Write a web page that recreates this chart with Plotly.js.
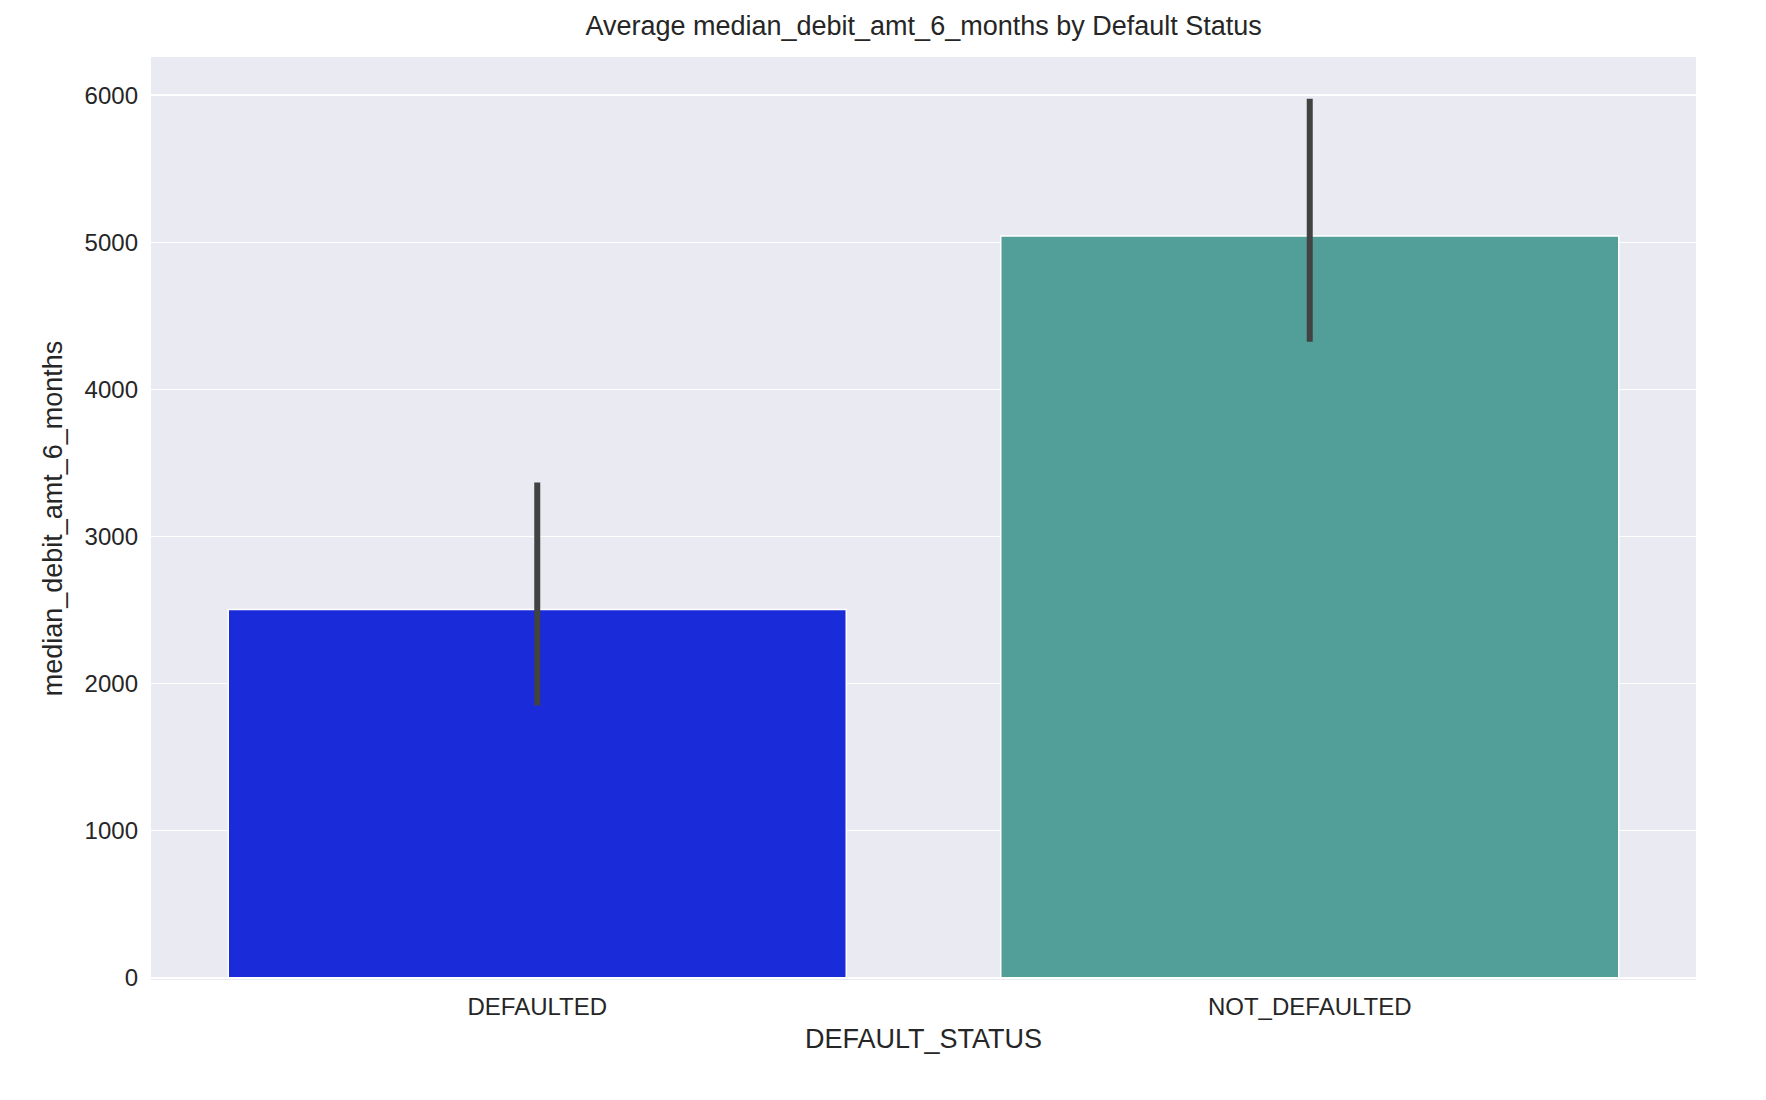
<!DOCTYPE html>
<html>
<head>
<meta charset="utf-8">
<script src="https://cdn.plot.ly/plotly-3.0.1.min.js"></script>
<style>html,body{margin:0;padding:0;background:#fff}#plot{width:1766px;height:1100px}</style>
</head>
<body>
<div id="plot"></div>
<script>
// Mean per default status, with the 95% CI ends.
const categories = ["DEFAULTED", "NOT_DEFAULTED"];
const meanValues = [2503, 5043];
const ciLow      = [1852, 4324];
const ciHigh     = [3367, 5977];
const barColors  = ["#1a2bd9", "#529e98"];

const data = [{
  type: "bar",
  x: categories,
  y: meanValues,
  width: 0.8,
  marker: { color: barColors, line: { color: "#ffffff", width: 1.5 } },
  hoverinfo: "x+y",
}, {
  // CI lines as a separate trace so they sit on top of the bars
  type: "scatter",
  mode: "lines",
  x: categories.flatMap(c => [c, c, null]),
  y: ciLow.flatMap((lo, i) => [lo, ciHigh[i], null]),
  line: { color: "#424242", width: 6 },
  hoverinfo: "skip",
}];

const layout = {
  width: 1766, height: 1100,
  paper_bgcolor: "#ffffff",
  plot_bgcolor: "#eaeaf2",
  font: { family: "Liberation Sans, Arial, sans-serif", color: "#262626", size: 24 },
  margin: { l: 151, r: 70, t: 57, b: 120 },
  showlegend: false,
  title: { text: "Average median_debit_amt_6_months by Default Status",
           font: { size: 27 }, x: 0.523, xanchor: "center", y: 0.985, yanchor: "top" },
  xaxis: {
    type: "category", range: [-0.5, 1.5], showgrid: false, zeroline: false,
    ticks: "", ticklabelstandoff: 10,
    title: { text: "DEFAULT_STATUS", font: { size: 27 }, standoff: 10 },
  },
  yaxis: {
    range: [-15, 6260], tickvals: [0, 1000, 2000, 3000, 4000, 5000, 6000],
    gridcolor: "#ffffff", gridwidth: 1.5, zeroline: false, ticks: "",
    ticklabelstandoff: 12,
    title: { text: "median_debit_amt_6_months", font: { size: 27 }, standoff: 14 },
  },
};

Plotly.newPlot("plot", data, layout, { displayModeBar: false, staticPlot: true });
</script>
</body>
</html>
